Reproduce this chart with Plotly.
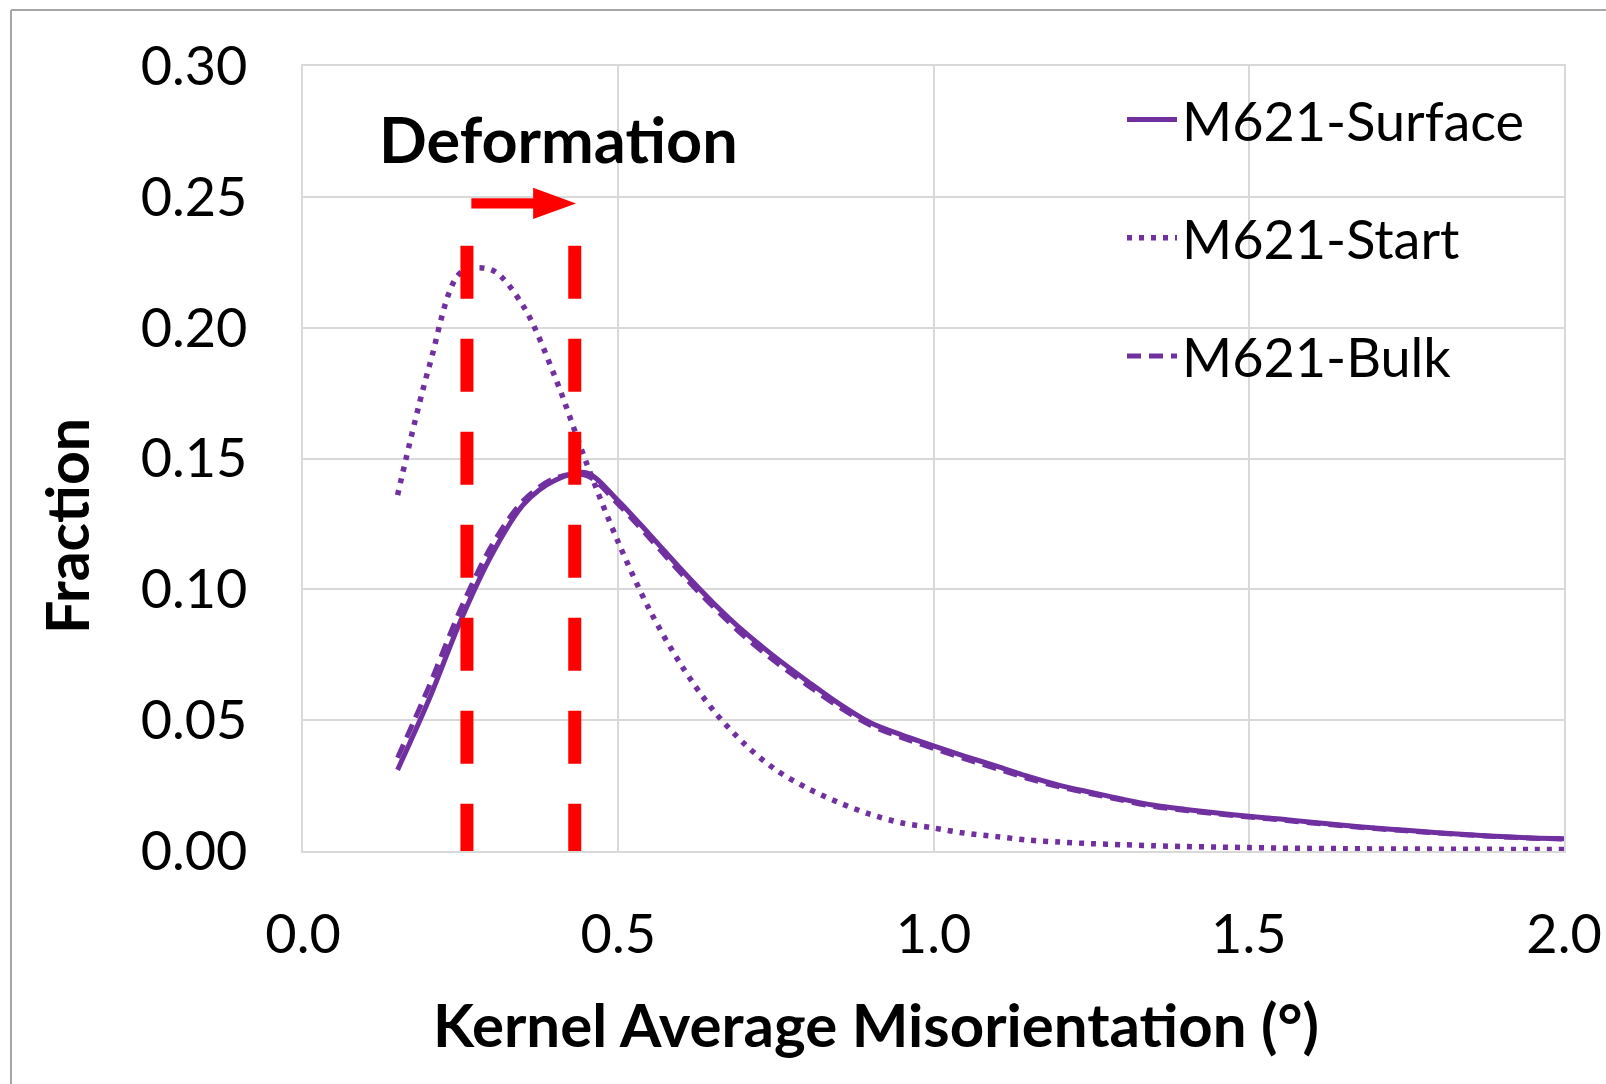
import plotly.graph_objects as go

# Kernel average misorientation distributions (fraction per bin)
kam_deg = [0.15, 0.20, 0.25, 0.30, 0.35, 0.40, 0.45, 0.50, 0.55, 0.60,
           0.65, 0.70, 0.75, 0.80, 0.85, 0.90, 0.95, 1.00, 1.05, 1.10,
           1.15, 1.20, 1.25, 1.30, 1.35, 1.40, 1.45, 1.50, 1.55, 1.60,
           1.65, 1.70, 1.75, 1.80, 1.85, 1.90, 1.95, 2.00]

m621_surface = [0.0310, 0.0580, 0.0880, 0.1135, 0.1325, 0.1417, 0.1445, 0.1338, 0.1209, 0.1076,
                0.0950, 0.0837, 0.0739, 0.0649, 0.0563, 0.0490, 0.0443, 0.0402, 0.0362, 0.0324,
                0.0285, 0.0251, 0.0224, 0.0198, 0.0175, 0.0159, 0.0145, 0.0133, 0.0122, 0.0110,
                0.0098, 0.0088, 0.0079, 0.0070, 0.0062, 0.0055, 0.0050, 0.0047]

m621_start = [0.1360, 0.1850, 0.2210, 0.2220, 0.2080, 0.1810, 0.1480, 0.1180, 0.0920, 0.0710,
              0.0540, 0.0410, 0.0310, 0.0240, 0.0185, 0.0140, 0.0107, 0.0088, 0.0068, 0.0055,
              0.0042, 0.0034, 0.0028, 0.0024, 0.0020, 0.0017, 0.0015, 0.0013, 0.0011, 0.0010,
              0.0009, 0.0008, 0.0008, 0.0007, 0.0007, 0.0006, 0.0006, 0.0006]

m621_bulk = [0.0356, 0.0630, 0.0925, 0.1170, 0.1340, 0.1425, 0.1435, 0.1325, 0.1195, 0.1060,
             0.0935, 0.0820, 0.0722, 0.0634, 0.0551, 0.0481, 0.0433, 0.0392, 0.0352, 0.0315,
             0.0277, 0.0245, 0.0219, 0.0194, 0.0170, 0.0155, 0.0142, 0.0130, 0.0119, 0.0107,
             0.0096, 0.0086, 0.0077, 0.0069, 0.0061, 0.0054, 0.0049, 0.0046]

series_names = ["M621-Surface", "M621-Start", "M621-Bulk"]

# Peak positions marked by the red guide lines (start -> deformed)
peak_lines = [0.26, 0.431]
peak_line_top = 0.2313

x_ticks = [0.0, 0.5, 1.0, 1.5, 2.0]
y_ticks = [0.00, 0.05, 0.10, 0.15, 0.20, 0.25, 0.30]

PURPLE = "#7030A0"
RED = "#FF0000"
GRID = "#d9d9d9"
FONT = "Lato"

W, H = 1606, 1084
L, R, T, B = 303, 42, 66, 233
PW, PH = W - L - R, H - T - B


def px_x(px):
    return (px - L) / PW


def px_y(py):
    return (H - B - py) / PH


fig = go.Figure()

styles = [
    dict(dash="solid", width=5),
    dict(dash="5px,7px", width=5.5),
    dict(dash="14px,8px", width=5),
]
for name, ys, st in zip(series_names, [m621_surface, m621_start, m621_bulk], styles):
    fig.add_trace(go.Scatter(
        x=kam_deg, y=ys, name=name, mode="lines",
        line=dict(color=PURPLE, width=st["width"], dash=st["dash"], shape="spline", smoothing=0.9),
        legendgroup=name,
    ))

# Red dashed guide lines at the distribution peaks
for xv in peak_lines:
    fig.add_shape(type="line", xref="x", yref="y", x0=xv, x1=xv, y0=peak_line_top, y1=-0.0015,
                  line=dict(color=RED, width=13, dash="53px,40px"), layer="above")

# Arrow showing the shift of the peak with deformation
arr_y = 0.2475
shaft_h = 0.0020
head_h = 0.0060
tail_x = peak_lines[0] + 0.007
tip_x = peak_lines[1] + 0.002
head_base = tip_x - 0.068
arrow_path = (f"M{tail_x},{arr_y - shaft_h} L{head_base},{arr_y - shaft_h} "
              f"L{head_base},{arr_y - head_h} L{tip_x},{arr_y} L{head_base},{arr_y + head_h} "
              f"L{head_base},{arr_y + shaft_h} L{tail_x},{arr_y + shaft_h} Z")
fig.add_shape(type="path", xref="x", yref="y", path=arrow_path,
              fillcolor=RED, line=dict(width=0), layer="above")

fig.add_annotation(x=0.405, y=0.2722, xref="x", yref="y", text="<b>Deformation</b>",
                   showarrow=False, font=dict(family=FONT, size=63, color="black"),
                   xanchor="center", yanchor="middle")

# Axis titles
fig.add_annotation(x=px_x(66), y=px_y(526), xref="paper", yref="paper", text="<b>Fraction</b>",
                   textangle=-90, showarrow=False, font=dict(family=FONT, size=59, color="black"),
                   xanchor="center", yanchor="middle")
fig.add_annotation(x=px_x(876), y=px_y(1024), xref="paper", yref="paper",
                   text="<b>Kernel Average Misorientation (°)</b>", showarrow=False,
                   font=dict(family=FONT, size=60, color="black"), xanchor="center", yanchor="middle")

# Chart-area frame (left and top edges)
frame = dict(color="#a6a6a6", width=2)
fig.add_shape(type="line", xref="paper", yref="paper", x0=px_x(11), x1=px_x(11),
              y0=px_y(10), y1=px_y(H + 5), line=frame)
fig.add_shape(type="line", xref="paper", yref="paper", x0=px_x(11), x1=px_x(W + 5),
              y0=px_y(10), y1=px_y(10), line=frame)

axis_common = dict(showgrid=True, gridcolor=GRID, gridwidth=1.5, zeroline=False,
                   showline=True, linecolor=GRID, linewidth=1.5, mirror=True,
                   ticks="outside", tickcolor="rgba(0,0,0,0)", automargin=False,
                   tickfont=dict(family=FONT, size=54, color="black"))

fig.update_xaxes(range=[0, 2], tickvals=x_ticks, ticktext=[f"{v:.1f}" for v in x_ticks],
                 ticklen=35, **axis_common)
fig.update_yaxes(range=[0, 0.30], tickvals=y_ticks, ticktext=[f"{v:.2f}" for v in y_ticks],
                 ticklen=43, **axis_common)

fig.update_layout(
    width=W, height=H,
    margin=dict(l=L, r=R, t=T, b=B, autoexpand=False),
    paper_bgcolor="white", plot_bgcolor="white",
    font=dict(family=FONT, color="black"),
    showlegend=True,
    legend=dict(x=px_x(1122), y=px_y(78), xanchor="left", yanchor="top",
                font=dict(family=FONT, size=54, color="black"),
                bgcolor="rgba(0,0,0,0)", tracegroupgap=45, itemwidth=50),
)

fig.write_html("out.html")
